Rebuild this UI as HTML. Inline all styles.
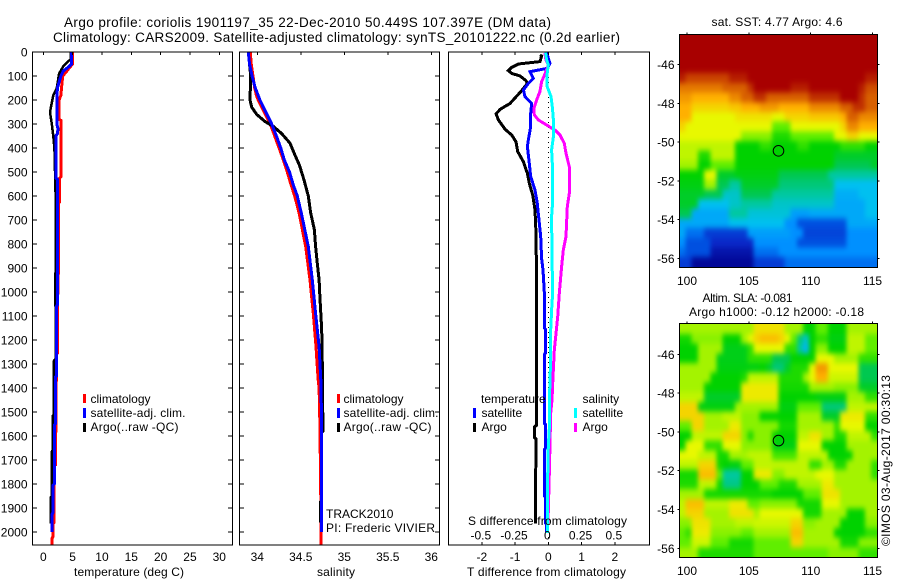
<!DOCTYPE html>
<html lang="en">
<head>
<meta charset="utf-8">
<title>Argo profile chart</title>
<style>
html,body{margin:0;padding:0;background:#fff;}
svg{display:block;}
text{font-family:"Liberation Sans",sans-serif;font-size:12px;fill:#000;}
</style>
</head>
<body>
<svg id="chart" xmlns="http://www.w3.org/2000/svg" width="900" height="580" viewBox="0 0 900 580">
<defs>
<filter id="map-smooth" filterUnits="userSpaceOnUse" x="640" y="0" width="260" height="580" color-interpolation-filters="sRGB">
<feGaussianBlur stdDeviation="2 3"/>
</filter>
<clipPath id="sst-clip"><rect x="679.5" y="34.5" width="198" height="233"/></clipPath>
<clipPath id="sla-clip"><rect x="679.5" y="323.5" width="198" height="234"/></clipPath>
</defs>
<rect width="900" height="580" fill="#fff"/>
<g id="temp-panel"></g>
<g id="sal-panel"></g>
<g id="diff-panel"></g>
<g id="sst-map"></g>
<g id="sla-map"></g>

<text x="64" y="27" style="font-size:13.5px" textLength="487">Argo profile: coriolis 1901197_35 22-Dec-2010 50.449S 107.397E (DM data)</text>
<text x="53" y="42" style="font-size:13.5px" textLength="567">Climatology: CARS2009. Satellite-adjusted climatology: synTS_20101222.nc (0.2d earlier)</text>

<text x="74" y="576" textLength="110">temperature (deg C)</text>
<text x="317" y="576" textLength="38">salinity</text>
<text x="467" y="576" textLength="159">T difference from climatology</text>
<text x="468" y="525" textLength="159">S difference from climatology</text>

<g>
<rect x="83" y="394" width="3" height="9" fill="#f00"/>
<rect x="83" y="408" width="3" height="10" fill="#00f"/>
<rect x="83" y="423" width="3" height="9" fill="#000"/>
<text x="90.5" y="403">climatology</text>
<text x="90.5" y="417" textLength="95">satellite-adj. clim.</text>
<text x="90.5" y="431" textLength="88">Argo(..raw -QC)</text>
</g>
<g>
<rect x="337" y="394" width="3" height="9" fill="#f00"/>
<rect x="337" y="408" width="3" height="10" fill="#00f"/>
<rect x="337" y="423" width="3" height="9" fill="#000"/>
<text x="343.5" y="403">climatology</text>
<text x="343.5" y="417" textLength="95">satellite-adj. clim.</text>
<text x="343.5" y="431" textLength="88">Argo(..raw -QC)</text>
</g>
<text x="326" y="518">TRACK2010</text>
<text x="326" y="532" textLength="109">PI: Frederic VIVIER</text>

<g>
<text x="481" y="403">temperature</text>
<rect x="473" y="408" width="3" height="10" fill="#00f"/>
<rect x="473" y="423" width="3" height="9" fill="#000"/>
<text x="481.5" y="417">satellite</text>
<text x="481.5" y="431">Argo</text>
<text x="582.5" y="403">salinity</text>
<rect x="574" y="408" width="3" height="10" fill="#0ff"/>
<rect x="574" y="423" width="3" height="9" fill="#f0f"/>
<text x="582.5" y="417">satellite</text>
<text x="582.5" y="431">Argo</text>
</g>

<text x="711.5" y="26" textLength="131">sat. SST: 4.77 Argo: 4.6</text>
<text x="702.5" y="302" textLength="90">Altim. SLA: -0.081</text>
<text x="689" y="316" textLength="175">Argo h1000: -0.12 h2000: -0.18</text>
<text transform="translate(890,546) rotate(-90)" textLength="171">©IMOS 03-Aug-2017 00:30:13</text>
</svg>

<script>
// ---------- profile data ----------
var depthTicks = [0,100,200,300,400,500,600,700,800,900,1000,1100,1200,1300,1400,1500,1600,1700,1800,1900,2000];
var tempTicks = [0,5,10,15,20,25,30];
var salTicks = [34,34.5,35,35.5,36];
var salTickLabels = ["34","34.5","35","35.5","36"];
var diffTTicks = [-2,-1,0,1,2];
var diffSTicks = [-0.5,-0.25,0,0.25,0.5];
var diffSTickLabels = ["-0.5","-0.25","0","0.25","0.5"];

var tempClimDepth = [0,50,70,80,100,150,180,200,280,285,520,525,624,630,920,1054,1060,1254,1260,1400,1550,1720,1725,1960,1965,2020,2025,2055];
var tempClimValue = [5.0,5.0,4.3,4.0,3.3,3.1,3.0,2.7,2.7,3.0,3.0,2.8,2.8,2.55,2.55,2.42,2.42,2.42,2.25,2.2,2.13,2.1,1.85,1.85,1.65,1.65,1.5,1.5];
var tempSatDepth = [0,50,60,80,100,150,200,300,320,340,350,525,530,1054,1060,1350,1355,1550,1555,1800,1805,1920,1925,2000];
var tempSatValue = [4.83,4.83,4.4,3.4,3.0,2.4,2.3,2.3,2.5,2.4,2.15,2.17,2.39,2.39,2.25,2.25,2.05,2.05,1.88,1.88,1.65,1.65,1.5,1.5];
var tempArgoDepth = [0,30,40,60,90,150,180,250,300,350,400,440,600,920,925,1054,1060,1280,1286,1353,1512,1516,1660,1665,1850,1855,1965];
var tempArgoValue = [4.7,4.7,4.2,3.4,2.7,2.3,1.7,1.15,1.45,1.7,1.9,1.95,2.1,2.1,2.0,2.0,2.1,2.1,1.82,1.77,1.77,1.6,1.6,1.45,1.45,1.28,1.28];

var salClimDepth = [0,50,100,150,180,200,250,300,350,400,450,500,550,600,671,811,950,1089,1228,1367,1400,1550,2000,2055];
var salClimValue = [33.92,33.93,33.95,33.97,33.99,34.01,34.08,34.15,34.2,34.25,34.3,34.345,34.385,34.43,34.48,34.556,34.606,34.644,34.675,34.7,34.71,34.72,34.735,34.735];
var salSatDepth = [0,50,100,150,200,250,300,350,400,450,500,550,600,671,811,950,1089,1228,1367,1450,1550,2000];
var salSatValue = [33.897,33.91,33.94,33.977,34.03,34.097,34.165,34.22,34.27,34.31,34.37,34.41,34.46,34.506,34.586,34.632,34.67,34.71,34.73,34.735,34.74,34.74];
var salArgoDepth = [0,50,100,200,230,260,290,310,340,380,430,470,533,600,671,741,811,881,950,1020,1089,1158,1367,1450,1580,1585,1870,1875,1960];
var salArgoValue = [33.897,33.91,33.924,33.916,33.936,33.993,34.09,34.184,34.28,34.376,34.433,34.483,34.537,34.586,34.614,34.656,34.67,34.69,34.71,34.72,34.73,34.74,34.75,34.75,34.755,34.74,34.74,34.725,34.725];

var diffTArgoDepth = [12,17,40,50,64,78,89,100,119,131,161,214,239,258,283,322,346,374,415,457,506,547,596,658,756,860,1000,1555,1561,1608,1612,1965];
var diffTArgoValue = [-0.25,-0.2,-0.25,-0.9,-1.1,-1.2,-1.1,-0.85,-0.67,-0.63,-0.8,-1.15,-1.45,-1.57,-1.5,-1.3,-1.1,-0.97,-0.92,-0.75,-0.63,-0.57,-0.47,-0.4,-0.37,-0.36,-0.35,-0.35,-0.41,-0.41,-0.37,-0.39];
var diffTSatDepth = [3,26,47,68,82,110,131,158,186,214,256,311,367,394,464,519,575,631,672,769,860,908,1000,1150,1155,1255,1260,1547,1552,1651,1656,1850,1855,1962,1967,2000];
var diffTSatValue = [-0.05,0,0.05,-0.03,-0.55,-0.45,-0.6,-0.75,-0.7,-0.5,-0.53,-0.53,-0.6,-0.63,-0.57,-0.53,-0.4,-0.33,-0.3,-0.23,-0.2,-0.16,-0.12,-0.12,-0.09,-0.09,-0.12,-0.12,-0.08,-0.08,-0.12,-0.12,-0.09,-0.09,-0.05,-0.05];
var diffSArgoDepth = [3,33,54,82,124,165,200,235,262,283,304,325,346,381,422,478,589,644,769,825,895,1006,1103,1186,1242,1380,1450,1505,1630,1742,1962];
var diffSArgoValue = [-0.025,-0.018,0,-0.018,-0.05,-0.063,-0.088,-0.108,-0.105,-0.075,-0.013,0.05,0.088,0.12,0.133,0.158,0.158,0.143,0.133,0.113,0.1,0.083,0.071,0.056,0.045,0.033,0.028,0.018,0.013,0.008,-0.002];
var diffSSatDepth = [3,33,54,89,144,186,228,283,353,408,464,644,686,860,1000,1061,1158,1270,1450,1562,1645,1825,2005];
var diffSSatValue = [-0.02,-0.013,0,-0.008,-0.008,0.02,0.03,0.038,0.038,0.025,0.03,0.03,0.025,0.028,0.033,0.026,0.018,0.018,0.008,0.008,0,-0.007,-0.007];

// ---------- map data (0.5 degree cells, colour-scale units) ----------
var mapLonTicks = [100,105,110,115];
var mapLatTicks = [-46,-48,-50,-52,-54,-56];
var mapFirstLon = 99.38;
var cellLon = 0.5;
var floatLon = 107.397;
var floatLat = -50.449;

var sstFirstLat = -44.44;
var sstCells = [
[12,12,12,12,12,12,12,12,12,12,12,12,12,12,12,12,12,12,12,12,12,12,12,12,12,12,12,12,12,12,12,12],
[12,12,12,12,12,12,12,12,12,12,12,12,12,12,12,12,12,12,12,12,12,12,12,12,12,12,12,12,12,12,12,12],
[12,12,12,12,12,12,12,12,12,12,12,12,12,12,12,12,12,12,12,12,12,12,12,12,12,12,12,12,12,12,12,12],
[12,12,12,12,12,12,12,12,12,12,12,12,12,12,12,12,12,12,12,12,12,12,12,12,12,12,12,12,12,12,12,12],
[11.7,11.3,11.3,11.3,11.3,11.3,11.3,11.3,11.7,11.7,11.7,12,12,12,12,12,12,12,12,12,12,12,12,12,12,12,12,12,12,12,11.7,11.7],
[10.7,10.7,10.7,10.7,10.7,10.7,10.7,11,11,11,11,11.5,12,12,12,12,12,12,11.7,11.7,11.7,12,12,12,12,12,12,12,12,11.7,11.2,11.2],
[10.3,10.3,10,10,10,10,10,10,10.5,10.5,11,11,11.5,11.5,11,11,11,11,11,11,11,11.5,11.5,11.5,11.5,11.5,12,12,12,11.5,11,11],
[10,10,9.5,9.5,9.5,9.5,9.5,9.5,9.7,9.7,10,10,10,10.3,10.3,10.3,10,10,10,10,10,10.5,10.5,10.5,10.5,10.5,11,11,11.5,11.5,11,11],
[10,10,9,9,9,9,9,9,9,9.3,9.3,9.3,9.3,9.3,9.3,9,9,9.5,9.5,9.5,9.5,9.7,9.7,9.7,9.7,9.7,10,11,11,10.5,10.5,10.5],
[9.5,9,9,9,9,9,9,9,9,9,9,9,9,9,9,8,8,8,9,9,9,9,9,9,9,9,9.5,10.5,10.5,10,10,10],
[9,9,9,9,9,9,9,9,9,9,8.3,8.3,8.3,8.3,8.3,7.3,7.3,7.3,8,8,8,8,8,8,8,9,9,9.5,9.5,9,9,9],
[8.7,8.7,8.7,8.7,8.7,8.7,8.7,8.7,8.7,7,7,7,7,7.5,7.5,7,7,7,7,7.5,7.5,7,7,7,7,7,7.5,7.5,7.5,7.5,7,7],
[8.7,8.7,8.7,7.3,7.3,8.7,8.7,8.7,8.7,7,7,7,7,7,7,7,7,7,7,7,7,7,7,7,7,6.5,6.5,6.5,6.5,6.5,6.5,6.5],
[8.5,8.5,8.5,7,7,8,8,8,8,7,7,7,7,7,7,7,7,7,7,7,7,7,7,7,7,6,6,6,6,6,6,6.5],
[7,7,7,7,9,9,6.5,6.5,6.5,6.8,6.8,6.8,6.8,6.8,6.8,6.8,6,6,6,6,6,6,6,6,5,5,5,5,5,5,5,5],
[6.8,6.8,6.8,6.8,8.5,8.5,6,6,5,5,6.5,6.5,6.5,6.5,6.5,6.5,5.5,5.5,5.5,5.5,5.5,5.5,5.5,5.5,5.5,4,4,4,4,4,4,4],
[6.5,6.5,6.5,6.5,6,6,6,4.5,4.5,4.5,6,6,6,6,6,5,5,5,5,5,5,5,5,5,5,3.6,3.6,3.6,3.6,4,4,4],
[6.5,6.5,6.5,4,4,4,4,4,4.5,4.5,5,5,5,5,5,4.5,4.5,4.5,4.5,4.5,4.5,4.5,4.5,4.5,4.5,3.5,3.5,3.5,3.5,3.5,4,4],
[6,6,3.5,3.5,3.5,3.5,3.5,3.5,5,5,5,4.3,4.3,4.3,4.3,4.3,4.3,4.3,3.3,3.3,3.3,3.5,3.5,3.5,3.5,3.5,3.5,3.5,3.5,3.5,4,4],
[3.5,3.5,3.5,3.5,3.5,3.5,3.5,3.5,4,4,4,4,4,4,4,4,4,3,3,2,2,2,2,2,2,2,2,3.5,3.5,3.5,3.5,3.5],
[3.5,2.5,2.5,2.5,1.5,1.5,1.5,1.5,1.5,1.5,1.5,3.3,3.3,3.3,3.3,3.3,3.3,3.3,3,3,1.7,1.7,1.7,1.7,1.7,1.7,1.7,3,3,3,3,3],
[3,2,2,2,2,1,1,1,1,1,1,1,3,3,3,3,3,3,3,2,2,2,2,2,2,2,2,3,3,3,3,3],
[2.5,2,2,2,2,0.5,0.5,0.5,0.5,0.5,0.5,0.5,2.5,2.5,2.5,2.5,3,3,3,3,3,3,3,3,3,3,3,3,3,3,3,3],
[1.5,1.5,0.2,0.2,0.2,0.2,0.2,0.2,0.2,0.2,0.2,0.2,1.5,1.5,1.5,1.5,1.5,2.5,2.5,2.5,2.5,2.5,2.5,2.5,2.5,2.5,2.5,2.5,2.5,2.5,2.5,2.5]
];

var slaFirstLat = -44.45;
var slaCells = [
[8.5,8.5,8.5,8.5,8.5,8.5,8.5,8.5,8.5,8.5,8.5,8.5,9.3,9.3,9.3,9.3,9.3,8.5,8.5,8.5,7,7,8,8,7,7,7,8.5,8.5,8.5,8.5,8.5],
[7.2,7.2,8.3,8.3,8.3,8.3,8.3,7,7,7,8.5,9,9.5,9.8,9.8,9.8,9.5,9,8,5.5,4.5,7,7.5,7.5,6.8,6.8,6.8,8.7,8.7,8.7,8,8],
[7,7,7,8.5,8.5,8.5,8.5,6.7,6.7,6.7,6.7,7.5,9,9,9,9,9,7.5,7.5,5,3.8,7,8.3,8.3,7,7,7,8.7,8.7,8.7,8,8],
[7,7,7,8.5,8.5,8.5,6.7,6.7,6.7,6.7,6.7,7.5,7.5,7.5,7.5,6,6,6,7,7,7,7,9,9,9,8.5,8.5,8.5,8.5,7.5,7.5,7.5],
[8.5,8.5,8.5,8.5,8.5,8.5,6.8,6.8,6.8,6.8,6.8,6.8,6.8,7,6.5,5.5,5.5,6.5,7.3,7.3,7.3,9,10.3,10.3,9,9,9,9,9,6,6,6],
[8.5,8.5,8.5,8.5,8.5,7,7,7,7,7,7.3,8.7,8.7,8.7,8.7,8.7,7.3,7.3,7.3,7.3,8.5,9,10,10,8.8,8.8,8.8,8.8,8.8,6,6,6],
[8.5,8.5,8.5,8.5,7,7,7,7,7,7,9.2,9.2,9.2,9.2,9.2,9.2,7.2,7.2,7.2,7.2,7.2,8.5,8.5,8.5,8.5,8.3,8.3,8.3,8.3,6.5,6.5,6.5],
[8.7,8.7,8.7,8.7,6.5,6.5,6.5,6.5,6.5,6.5,9.2,9.2,9.2,9.2,9.2,9.2,7,7,7,7,7,7,6.8,6.8,6.8,6.8,6.8,8.5,8.5,8.5,7.5,7.5],
[9.5,9.5,9.5,6.8,6.8,6.8,6.8,6.8,6.8,8.5,8.5,8.5,8.5,8.5,8.5,8.5,6.8,6.8,6.8,8,8,8,8,5.5,5.5,5.5,5.5,8.7,8.7,8.7,8.7,8.7],
[9.5,9.5,9.5,9.5,8.5,8.5,8.5,8.7,8.7,8.7,8.3,8.3,8.3,7,7,7,7,7,7,8.5,8.5,8.5,8.5,6.5,6.5,6.5,9.2,9.2,9.2,9.2,7.5,7.5],
[8,8,9.5,9.5,8.5,8.5,8.5,8.5,9.2,9.2,8.3,8.3,8.3,8.3,8.3,8.3,7.2,7.2,7.2,8.5,8.5,8.5,8.5,8.5,8.5,7.5,9,9,9,9,7,7],
[7,7,8.7,8.7,8.7,8.7,8.7,9.5,9.5,9.5,8.3,7.3,8.3,8.3,8.3,7,7,7,7,8.7,8.7,9.3,9.3,8.5,8.5,7.3,7.3,8.7,8.7,8.7,8.7,7.5],
[7,9,9,9,7.5,7.5,7.5,9,9,9,8.3,8.3,8.3,8.3,8.3,6.8,6.8,6.8,6.8,9,9,9,9,7,7,7,7,8.5,8.5,8.5,8.5,8.5],
[9,9,9,8.7,8.7,8.7,7.2,7.2,8.5,8.5,8.5,8.7,8.7,8.7,8.7,7.7,7.7,7.7,7.7,8.7,8.7,8.7,8.7,8.7,7,7,7,7,8.5,8.5,8.5,8.5],
[8.7,8.7,8.7,9.5,9.5,9.5,7.2,7,6.8,6.8,8,8,8.7,8.7,8.7,8.7,8.7,8.7,8.7,8.7,8.7,7.5,7.5,8.5,8.5,7.3,7.3,8.5,8.5,8.5,8.5,7.5],
[7.2,7.2,7.2,9.8,9.8,9.8,8,5,5,5,7,7,9.2,9.2,9.2,8.3,8.3,8.7,8.7,8.7,8.7,8.7,9,9,9,8.5,8.5,8.5,8.5,8.5,8.5,7.5],
[7.3,7.3,7.3,8.7,8.7,8.7,7.2,5.3,5.3,5.3,7,7,7,8,8,8,7.3,7.3,7.3,8.5,8.5,8.5,8.5,9.2,9.2,8.5,8.5,8.5,8.5,8.5,8.5,8.5],
[8.5,8.5,8.5,8.5,7.2,7.2,7.2,7.2,7.2,7.2,7.2,7.2,7.2,7.2,7.2,7,7,7,7,7,8,8,8,9.3,9.3,9.3,8.5,8.5,8.5,8.5,8.5,8.5],
[8.7,9.8,9.8,9.8,8.7,8.7,8.7,8.7,9.2,9.2,9.2,8,8,8.3,8.3,8.3,8.3,8.3,8.3,7.2,7.2,7.2,7.2,9,9,9,8.5,8.5,8.5,8.5,8.5,8.5],
[8.7,9.5,9.5,9.5,8.5,8.5,8.5,8.5,9.3,9.3,9.3,9.3,8.5,9,9,9,9,9,9,9,7.2,7.2,7.2,8.5,8.5,8.5,8.5,7,7,7,8.5,8.5],
[8.3,8.3,9.3,9.3,9.3,8.5,8.5,8.5,8.5,8.7,8.7,8.7,8.8,8.8,8.8,8.8,8.8,8.8,9.5,9.5,8.3,8.3,8.5,8.5,8.5,8.5,7,7,7,7,8.3,8.3],
[8,7.5,9.2,9.2,9.2,8.3,8.3,8.3,8.3,8.3,8,8,8.5,8.5,8.5,8.5,8.5,8.5,9.8,9.8,8.5,8.5,8.5,8.5,8.5,7,7,7,7,7,7.5,7.5],
[8,8,8.8,8.8,8.8,8,8,8,7.2,7.2,7.2,7.2,8,8,8,8,8,8,9.5,9.5,8.5,8.5,8.5,8.5,8.5,8.5,7.2,7.2,7.2,8.3,8.3,8.3],
[8.5,8.5,8.5,7.3,7.3,7.3,7.3,7.3,7.3,7.3,7.3,7.3,8,8,8,8,8,8,8,8,8,8,8,8,8.3,8.3,8.3,8.3,8.3,7.5,7.5,7.5]
];

var colorStops = ["#00008c","#0a28c8","#0050e0","#0090ff","#00c0f0","#00c8a0","#00c850","#00d200","#60ee00","#e8f800","#ffb000","#d86000","#a80000"];

// ---------- helpers ----------
var NS = "http://www.w3.org/2000/svg";
function make(parent, tag, attrs) {
  var el = document.createElementNS(NS, tag);
  for (var k in attrs) el.setAttribute(k, attrs[k]);
  parent.appendChild(el);
  return el;
}
function tick(parent, x1, y1, x2, y2) {
  var el = make(parent, "line", {x1:x1, y1:y1, x2:x2, y2:y2, stroke:"#000", "stroke-width":1, "shape-rendering":"crispEdges"});
  
  
}
function label(parent, x, y, str, anchor) {
  var el = make(parent, "text", {x:x, y:y, "text-anchor":anchor});
  el.textContent = str;
  
  
}
function frame(parent, x0, y0, x1, y1) {
  var el = make(parent, "rect", {x:x0, y:y0, width:x1-x0, height:y1-y0, fill:"none", stroke:"#000", "stroke-width":1, "shape-rendering":"crispEdges"});
  
  
}
function profile(parent, depths, values, xFn, color, width, name) {
  var pts = [];
  for (var i = 0; i < depths.length; i++) pts.push(xFn(values[i]).toFixed(1) + "," + yDepth(depths[i]).toFixed(1));
  var el = make(parent, "polyline", {points:pts.join(" "), fill:"none", stroke:color, "stroke-width":width, "stroke-linejoin":"miter", "shape-rendering":"crispEdges"});
  
  
}
function yDepth(d) { return 52 + d * 0.24; }
var panelTop = 52, panelBottom = 545;

// ---------- temperature panel ----------
function xTemp(t) { return 43.3 + t * 5.867; }
var tempG = document.getElementById("temp-panel");
profile(tempG, tempClimDepth, tempClimValue, xTemp, "#f00", 3, "temperature-climatology-line");
profile(tempG, tempArgoDepth, tempArgoValue, xTemp, "#000", 2.5, "temperature-argo-line");
profile(tempG, tempSatDepth, tempSatValue, xTemp, "#00f", 3, "temperature-satellite-line");
frame(tempG, 32.5, panelTop, 232.5, panelBottom);
depthTicks.forEach(function (d) {
  var y = yDepth(d);
  tick(tempG, 32.5, y, 37, y);
  tick(tempG, 228, y, 232.5, y);
  label(tempG, 27.5, y + 4.5, String(d), "end");
});
tempTicks.forEach(function (t) {
  var x = xTemp(t);
  tick(tempG, x, panelTop, x, panelTop + 3);
  label(tempG, x, 561, String(t), "middle");
});

// ---------- salinity panel ----------
function xSal(s) { return 257.3 + (s - 34) * 87; }
var salG = document.getElementById("sal-panel");
profile(salG, salClimDepth, salClimValue, xSal, "#f00", 3, "salinity-climatology-line");
profile(salG, salArgoDepth, salArgoValue, xSal, "#000", 3, "salinity-argo-line");
profile(salG, salSatDepth, salSatValue, xSal, "#00f", 3, "salinity-satellite-line");
frame(salG, 239.5, panelTop, 439.5, panelBottom);
depthTicks.forEach(function (d) {
  var y = yDepth(d);
  tick(salG, 239.5, y, 244, y);
  tick(salG, 435, y, 439.5, y);
});
salTicks.forEach(function (s, i) {
  var x = xSal(s);
  tick(salG, x, panelTop, x, panelTop + 3);
  label(salG, x, 561, salTickLabels[i], "middle");
});

// ---------- difference panel ----------
function xDiffT(t) { return 548.3 + t * 33.25; }
function xDiffS(s) { return 548.3 + s * 133; }
var diffG = document.getElementById("diff-panel");
var zeroLine = make(diffG, "line", {x1:xDiffT(0), y1:panelTop, x2:xDiffT(0), y2:panelBottom, stroke:"#000", "stroke-width":1, "stroke-dasharray":"1 4", "shape-rendering":"crispEdges"});


profile(diffG, diffTArgoDepth, diffTArgoValue, xDiffT, "#000", 3, "t-difference-argo-line");
profile(diffG, diffTSatDepth, diffTSatValue, xDiffT, "#00f", 3, "t-difference-satellite-line");
profile(diffG, diffSArgoDepth, diffSArgoValue, xDiffS, "#f0f", 3, "s-difference-argo-line");
profile(diffG, diffSSatDepth, diffSSatValue, xDiffS, "#0ff", 3, "s-difference-satellite-line");
frame(diffG, 448.5, panelTop, 649.5, panelBottom);
diffTTicks.forEach(function (t) {
  var x = xDiffT(t);
  tick(diffG, x, panelTop, x, panelTop + 3);
  tick(diffG, x, panelBottom - 3, x, panelBottom);
  label(diffG, x, 561, String(t), "middle");
});
diffSTicks.forEach(function (s, i) {
  label(diffG, xDiffS(s) - 1, 539.5, diffSTickLabels[i], "middle");
});

// ---------- maps ----------
function hexRgb(h) { return [parseInt(h.substr(1,2),16), parseInt(h.substr(3,2),16), parseInt(h.substr(5,2),16)]; }
function colorOf(v) {
  var c = Math.max(0, Math.min(colorStops.length - 1, v));
  var lo = Math.floor(c), hi = Math.min(colorStops.length - 1, lo + 1), f = c - lo;
  var a = hexRgb(colorStops[lo]), b = hexRgb(colorStops[hi]);
  return "rgb(" + Math.round(a[0]+(b[0]-a[0])*f) + "," + Math.round(a[1]+(b[1]-a[1])*f) + "," + Math.round(a[2]+(b[2]-a[2])*f) + ")";
}
function xLon(lon) { return 687 + (lon - 100) * 12.37; }
function drawMap(g, cells, firstLat, yLat, top, bottom, labelY, clipId) {
  var left = 679.5, right = 877.5;
  var clipG = make(g, "g", {"clip-path":"url(#" + clipId + ")"});
  
  
  var cellG = make(clipG, "g", {filter:"url(#map-smooth)"});
  
  
  cells.forEach(function (row, j) {
    row.forEach(function (v, i) {
      var lon = mapFirstLon + i * cellLon;
      var lat = firstLat - j * cellLon;
      var x0 = xLon(lon);
      var x1 = xLon(lon + cellLon) + 0.6;
      var y0 = yLat(lat);
      var y1 = yLat(lat - cellLon) + 0.6;
      if (i === 0) x0 -= 14;
      if (i === row.length - 1) x1 += 14;
      if (j === 0) y0 -= 14;
      if (j === cells.length - 1) y1 += 14;
      var r = make(cellG, "rect", {x:x0.toFixed(2), y:y0.toFixed(2), width:(x1-x0).toFixed(2), height:(y1-y0).toFixed(2), fill:colorOf(v), "shape-rendering":"crispEdges"});
      
      
    });
  });
  frame(g, left, top, right, bottom);
  mapLonTicks.forEach(function (lon) {
    var x = xLon(lon);
    tick(g, x, top - 2, x, top);
    label(g, x, labelY, String(lon), "middle");
  });
  mapLatTicks.forEach(function (lat) {
    var y = yLat(lat);
    tick(g, left - 2, y, left, y);
    tick(g, right, y, right + 2, y);
    label(g, 674.5, y + 4.5, String(lat), "end");
  });
  var c = make(g, "circle", {cx:xLon(floatLon), cy:yLat(floatLat), r:5.3, fill:"none", stroke:"#000", "stroke-width":1});
  
  
}
function ySst(lat) { return 64.7 + (-46 - lat) * 19.36; }
function ySla(lat) { return 354.3 + (-46 - lat) * 19.4; }
drawMap(document.getElementById("sst-map"), sstCells, sstFirstLat, ySst, 34.5, 267.5, 285, "sst-clip");
drawMap(document.getElementById("sla-map"), slaCells, slaFirstLat, ySla, 323.5, 557.5, 575, "sla-clip");
</script>
</body>
</html>
